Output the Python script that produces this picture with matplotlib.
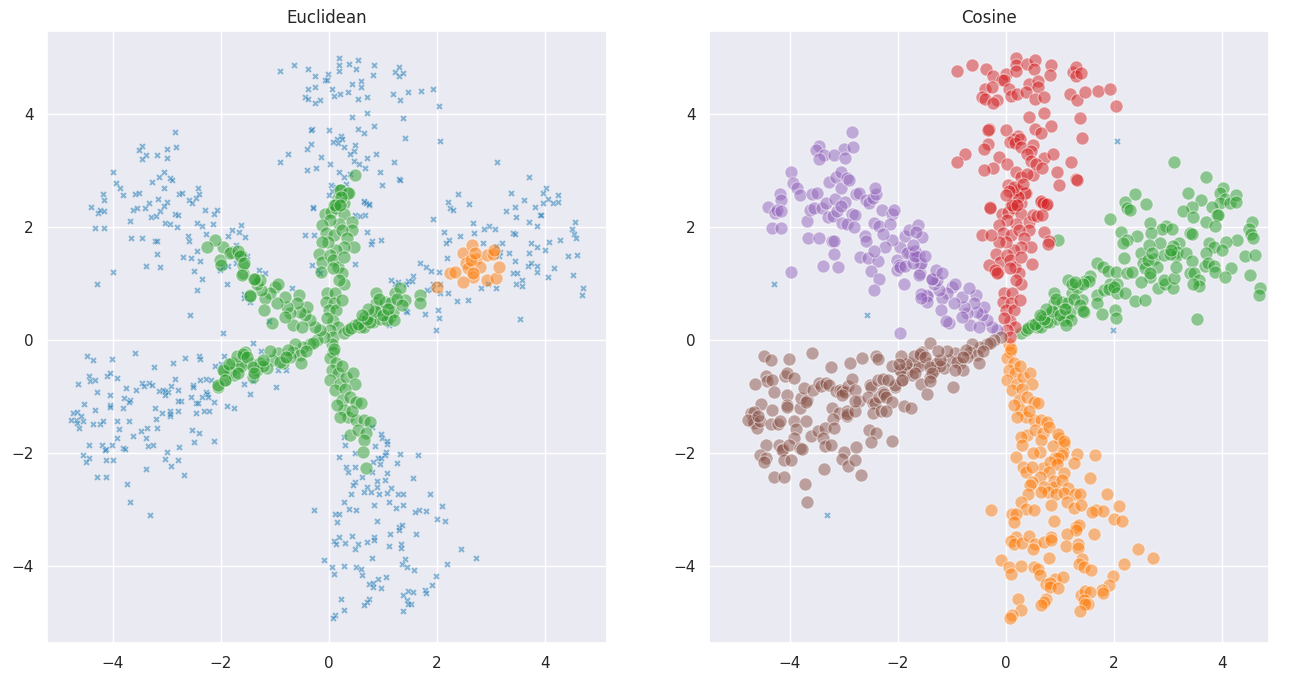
import matplotlib
matplotlib.use('Agg')
import matplotlib.pyplot as plt
import numpy as np
import seaborn as sns

sns.set_theme()

# points, grouped by arm
# *_core: dense part near the centre (main euclidean cluster)
# *_outer: euclidean noise, but assigned to the arm by cosine
red_core = [
    (0.49, 2.92), (0.37, 2.61), (0.22, 2.65), (0.17, 2.51), (0.27, 2.42), (0.09, 2.39),
    (-0.07, 2.24), (0.04, 2.27), (0.14, 2.33), (0.28, 2.24), (0.42, 2.09), (0.43, 1.95),
    (0.19, 2.06), (0.02, 2.12), (-0.13, 2.03), (-0.06, 1.89), (0.09, 1.86), (0.24, 1.95),
    (0.33, 1.80), (0.47, 1.65), (0.28, 1.65), (0.14, 1.59), (-0.01, 1.74), (-0.13, 1.74),
    (-0.19, 1.53), (-0.12, 1.39), (-0.15, 1.21), (0.02, 1.50), (0.08, 1.42), (0.17, 1.30),
    (0.27, 1.47), (0.24, 1.18), (0.28, 1.00), (0.19, 1.06), (0.08, 1.27), (-0.04, 0.83),
    (0.11, 0.83), (-0.05, 0.68), (0.09, 0.65), (0.00, 0.54), (0.14, 0.54), (0.25, 0.71),
    (0.07, 0.33), (-0.03, 0.39), (0.17, 0.24), (0.02, 0.18), (0.08, 0.06), (0.20, 2.66),
    (0.35, 2.61), (0.23, 2.54), (0.11, 2.39), (0.20, 2.39),
]
red_outer = [
    (-0.91, 4.76), (-0.64, 4.87), (-0.38, 4.79), (-0.25, 4.68), (-0.01, 4.71), (-0.07, 4.61),
    (-0.03, 4.61), (0.18, 5.00), (0.19, 4.87), (0.19, 4.77), (0.38, 4.88), (0.53, 4.96),
    (0.51, 4.80), (0.84, 4.86), (0.82, 4.69), (1.23, 4.75), (1.30, 4.84), (1.30, 4.68),
    (1.38, 4.72), (-0.39, 4.44), (-0.26, 4.48), (0.06, 4.44), (0.42, 4.54), (0.60, 4.59),
    (0.59, 4.47), (-0.44, 4.30), (-0.39, 4.27), (-0.16, 4.25), (-0.25, 4.20), (0.10, 4.32),
    (0.21, 4.35), (0.36, 4.39), (0.54, 4.27), (0.70, 4.31), (1.18, 4.35), (1.32, 4.25),
    (1.47, 4.39), (1.70, 4.41), (1.93, 4.45), (2.04, 4.15), (0.70, 4.02), (0.42, 3.94),
    (1.37, 3.93), (-0.31, 3.74), (-0.34, 3.72), (0.00, 3.72), (0.53, 3.73), (0.83, 3.79),
    (0.65, 3.66), (1.41, 3.57), (0.22, 3.62), (0.15, 3.55), (0.08, 3.51), (0.16, 3.49),
    (0.25, 3.55), (-0.76, 3.30), (-0.33, 3.47), (-0.40, 3.39), (-0.14, 3.24), (0.28, 3.42),
    (0.49, 3.45), (0.47, 3.34), (0.39, 3.30), (0.70, 3.23), (0.87, 3.30), (-0.91, 3.16),
    (0.02, 3.12), (0.46, 3.17), (0.56, 3.12), (-0.24, 3.04), (-0.41, 3.01), (0.67, 3.04),
    (1.21, 3.15), (0.94, 2.98), (0.19, 2.97), (0.28, 2.89), (0.39, 2.94), (1.30, 2.85),
    (0.98, 2.75), (0.04, 2.74), (0.14, 2.71), (0.06, 2.64), (0.00, 2.57), (0.31, 2.76),
    (0.65, 2.45), (0.74, 2.39), (-0.30, 2.35), (1.31, 2.84), (-0.29, 2.34), (-0.44, 1.86),
    (-0.27, 1.86), (-0.31, 1.33), (-0.20, 1.24), (-0.16, 1.19), (0.48, 1.35), (0.70, 1.92),
    (0.80, 1.76), (0.77, 1.70), (0.64, 2.46), (0.68, 2.42), (0.75, 2.40), (0.49, 2.22),
    (0.57, 2.19), (0.67, 2.21),
]
green_core = [
    (0.27, 0.12), (0.36, 0.18), (0.48, 0.27), (0.60, 0.32), (0.57, 0.24), (0.67, 0.41),
    (0.79, 0.47), (0.82, 0.32), (0.94, 0.38), (0.88, 0.65), (0.97, 0.53), (0.88, 0.83),
    (1.04, 0.68), (1.13, 0.41), (1.19, 0.50), (1.22, 0.83), (1.31, 0.92), (1.41, 0.71),
    (1.13, 0.65), (1.68, 0.80), (1.68, 0.65), (0.64, 0.24), (0.76, 0.32), (1.07, 0.36),
    (0.40, 0.22), (0.54, 0.29), (0.70, 0.37), (0.85, 0.52), (0.92, 0.72), (1.00, 0.45),
    (1.10, 0.55), (1.26, 0.72), (1.36, 0.62), (1.20, 0.35), (0.73, 0.55), (0.62, 0.45),
]
green_outer = [
    (3.11, 3.15), (3.71, 2.88), (4.01, 2.70), (3.97, 2.60), (4.05, 2.49), (3.97, 2.42),
    (4.14, 2.42), (4.25, 2.57), (4.25, 2.45), (3.37, 2.61), (3.61, 2.48), (3.44, 2.36),
    (3.27, 2.29), (3.47, 2.17), (3.81, 2.36), (3.91, 2.21), (3.93, 2.22), (3.71, 2.09),
    (3.86, 2.02), (4.56, 2.09), (4.50, 1.96), (4.54, 1.87), (4.57, 1.81), (2.39, 2.58),
    (2.21, 2.45), (2.24, 2.34), (2.30, 2.30), (2.60, 2.41), (1.92, 2.15), (2.66, 2.07),
    (2.96, 2.02), (2.88, 1.96), (3.07, 1.97), (2.68, 1.90), (2.13, 1.91), (2.43, 1.84),
    (2.23, 1.78), (2.17, 1.71), (3.41, 1.89), (3.44, 1.88), (4.27, 1.78), (4.08, 1.73),
    (3.75, 1.72), (3.85, 1.64), (4.00, 1.59), (2.85, 1.71), (3.20, 1.71), (3.09, 1.66),
    (3.17, 1.56), (3.15, 1.49), (3.33, 1.55), (3.70, 1.55), (4.43, 1.49), (4.60, 1.50),
    (2.18, 1.46), (3.44, 1.40), (3.69, 1.31), (3.74, 1.37), (3.85, 1.31), (3.86, 1.21),
    (4.17, 1.28), (3.40, 1.19), (3.48, 1.18), (4.06, 1.12), (4.52, 1.15), (3.57, 1.06),
    (3.58, 0.96), (3.46, 1.00), (2.82, 0.93), (2.94, 0.99), (3.09, 0.93), (4.71, 0.93),
    (4.69, 0.79), (3.53, 0.37), (1.69, 1.36), (1.79, 1.30), (1.89, 1.23), (2.04, 1.20),
    (1.56, 1.13), (1.47, 1.04), (1.54, 1.04), (1.42, 1.00), (1.93, 1.00), (2.05, 1.00),
    (1.81, 0.88), (1.90, 0.90), (2.05, 0.84), (2.21, 0.83), (2.38, 0.70), (2.57, 0.71),
    (1.78, 0.47), (2.02, 0.54), (2.04, 0.40), (1.44, 0.49), (0.97, 1.77), (1.15, 1.06),
    (1.22, 1.00), (1.28, 1.03), (1.11, 0.27), (1.43, 0.52),
]
# small second euclidean cluster (sits in the green arm)
blob = [
    (2.24, 1.18), (2.33, 1.21), (2.49, 1.54), (2.64, 1.68), (2.54, 1.37), (2.73, 1.44),
    (2.80, 1.30), (2.58, 1.27), (2.67, 1.12), (2.49, 1.03), (2.92, 1.06), (3.10, 1.10),
    (3.15, 1.29), (2.93, 1.50), (3.03, 1.52), (3.06, 1.59), (2.63, 1.41), (2.70, 1.54),
    (2.00, 0.94), (2.66, 1.18),
]
orange_core = [
    (0.05, -0.06), (0.08, -0.21), (0.02, -0.32), (0.14, -0.41), (0.05, -0.53), (0.17, -0.59),
    (0.02, -0.71), (0.20, -0.77), (0.11, -0.88), (0.32, -0.65), (0.45, -0.59), (0.48, -0.77),
    (0.30, -0.86), (0.24, -1.06), (0.39, -1.00), (0.51, -1.09), (0.60, -1.12), (0.27, -1.24),
    (0.36, -1.36), (0.51, -1.42), (0.64, -1.42), (0.76, -1.45), (0.39, -1.68), (0.54, -1.59),
    (0.69, -1.65), (0.64, -1.77), (0.63, -1.98), (0.69, -2.27), (0.20, -1.36), (0.10, -0.15),
    (0.25, -0.45), (0.15, -1.15), (0.42, -1.25),
]
orange_outer = [
    (0.80, -1.54), (0.98, -1.73), (1.08, -1.84), (0.86, -1.87), (0.27, -1.71), (0.30, -1.86),
    (0.19, -2.07), (0.31, -2.24), (0.36, -2.34), (0.48, -2.24), (0.49, -2.00), (1.06, -1.98),
    (1.03, -2.04), (0.90, -2.08), (0.96, -2.08), (0.82, -2.16), (0.95, -2.20), (1.31, -2.02),
    (1.26, -2.17), (1.64, -2.04), (1.08, -2.36), (0.79, -2.34), (0.62, -2.43), (0.48, -2.51),
    (0.44, -2.57), (0.89, -2.50), (0.89, -2.60), (1.03, -2.48), (1.15, -2.62), (0.71, -2.60),
    (0.77, -2.69), (0.65, -2.69), (0.93, -2.73), (1.07, -2.70), (1.27, -2.73), (1.37, -2.73),
    (1.56, -2.44), (1.87, -2.73), (0.40, -2.73), (0.28, -2.87), (1.12, -2.87), (0.37, -2.98),
    (0.51, -3.00), (0.83, -2.91), (1.25, -2.97), (1.38, -2.92), (1.67, -3.00), (1.80, -3.03),
    (2.10, -2.93), (2.00, -3.17), (2.14, -3.20), (1.60, -3.04), (-0.27, -3.01), (0.11, -3.07),
    (0.18, -3.07), (0.15, -3.21), (0.89, -3.20), (1.29, -3.30), (1.35, -3.28), (1.29, -3.36),
    (1.13, -3.43), (1.62, -3.43), (0.18, -3.48), (0.10, -3.56), (0.14, -3.60), (0.29, -3.59),
    (0.43, -3.47), (0.54, -3.61), (0.49, -3.70), (0.71, -3.58), (0.83, -3.48), (0.84, -3.53),
    (1.11, -3.64), (1.33, -3.61), (1.34, -3.67), (2.44, -3.70), (2.72, -3.85), (-0.10, -3.89),
    (0.80, -3.86), (1.41, -3.87), (0.06, -4.02), (0.09, -4.13), (0.28, -4.00), (0.51, -4.01),
    (0.59, -4.05), (0.62, -4.16), (1.35, -3.97), (1.44, -4.01), (1.57, -4.06), (2.19, -3.96),
    (0.90, -4.22), (1.05, -4.20), (0.74, -4.32), (0.82, -4.30), (0.81, -4.36), (0.96, -4.39),
    (1.98, -4.17), (1.90, -4.33), (1.78, -4.42), (1.80, -4.48), (1.38, -4.51), (1.47, -4.44),
    (1.56, -4.45), (1.45, -4.60), (1.52, -4.67), (1.47, -4.67), (1.37, -4.80), (0.23, -4.58),
    (0.74, -4.58), (0.70, -4.63), (0.65, -4.68), (0.28, -4.77), (0.11, -4.86), (0.07, -4.91),
    (0.96, -1.66), (1.08, -1.79),
]
brown_core = [
    (-0.10, 0.06), (-0.23, 0.00), (-0.35, -0.06), (-0.48, -0.12), (-0.63, -0.06), (-0.66, -0.21),
    (-0.54, -0.27), (-0.51, -0.41), (-0.72, -0.30), (-0.85, -0.41), (-0.94, -0.23), (-1.06, -0.35),
    (-1.15, -0.50), (-1.34, -0.53), (-1.46, -0.41), (-1.40, -0.65), (-1.59, -0.30), (-1.68, -0.47),
    (-1.80, -0.41), (-1.83, -0.56), (-1.93, -0.71), (-2.05, -0.83), (-1.55, -0.21), (-1.28, -0.41),
    (-0.91, -0.38), (-0.30, -0.05), (-0.42, -0.20), (-0.75, -0.18), (-0.80, -0.30), (-1.10, -0.20),
    (-1.22, -0.45), (-1.62, -0.45), (-1.75, -0.62), (-1.95, -0.55), (-1.70, -0.28), (-2.05, -0.80),
    (-1.97, -0.53), (-1.85, -0.43), (-1.60, -0.24), (-1.51, -0.30), (-1.41, -0.47), (-1.38, -0.59),
    (-1.23, -0.35), (-1.68, -0.59), (-1.93, -0.71),
]
brown_outer = [
    (-1.41, -0.05), (-1.26, -0.19), (-4.48, -0.28), (-4.36, -0.36), (-4.01, -0.34), (-3.59, -0.22),
    (-3.24, -0.47), (-2.89, -0.40), (-2.66, -0.32), (-2.41, -0.28), (-2.38, -0.34), (-1.95, -0.28),
    (-2.11, -0.46), (-1.99, -0.43), (-4.44, -0.63), (-4.43, -0.72), (-4.34, -0.70), (-4.65, -0.78),
    (-4.10, -0.64), (-4.05, -0.59), (-3.93, -0.67), (-4.30, -0.92), (-4.05, -0.97), (-4.54, -1.13),
    (-4.33, -1.23), (-4.05, -1.14), (-4.05, -1.19), (-3.81, -1.20), (-3.80, -1.02), (-3.69, -1.06),
    (-3.70, -1.10), (-3.75, -0.84), (-3.57, -0.88), (-3.47, -0.75), (-3.43, -0.81), (-3.33, -0.75),
    (-3.27, -0.79), (-3.14, -0.90), (-3.08, -0.88), (-3.03, -0.90), (-2.98, -0.92), (-2.92, -0.81),
    (-2.85, -0.68), (-3.04, -0.97), (-2.79, -0.88), (-2.73, -1.08), (-2.52, -0.80), (-2.51, -0.83),
    (-2.38, -0.71), (-2.27, -0.68), (-2.18, -0.70), (-2.55, -1.01), (-2.47, -1.12), (-2.43, -1.12),
    (-2.35, -1.01), (-2.28, -0.91), (-2.26, -0.96), (-2.23, -1.00), (-2.12, -1.09), (-1.89, -1.17),
    (-1.76, -1.20), (-1.57, -0.77), (-1.46, -0.96), (-1.40, -0.72), (-3.22, -1.20), (-3.10, -1.29),
    (-2.94, -1.25), (-2.95, -1.35), (-2.94, -1.31), (-2.80, -1.25), (-2.80, -1.07), (-2.46, -1.29),
    (-2.31, -1.26), (-2.22, -1.26), (-3.20, -1.40), (-4.73, -1.29), (-4.67, -1.27), (-4.68, -1.41),
    (-4.67, -1.47), (-4.62, -1.56), (-4.78, -1.41), (-4.55, -1.44), (-4.59, -1.34), (-4.36, -1.48),
    (-4.23, -1.49), (-4.18, -1.44), (-3.92, -1.44), (-3.71, -1.44), (-3.89, -1.57), (-3.62, -1.69),
    (-3.48, -1.61), (-3.36, -1.55), (-3.19, -1.55), (-3.39, -1.73), (-3.93, -1.74), (-4.44, -1.86),
    (-4.20, -1.86), (-4.13, -1.92), (-4.14, -1.94), (-4.01, -1.86), (-3.82, -1.91), (-3.77, -1.92),
    (-3.35, -1.88), (-3.25, -1.85), (-3.00, -1.98), (-2.77, -1.89), (-2.54, -1.59), (-2.41, -1.65),
    (-2.50, -1.80), (-2.12, -1.79), (-4.55, -2.03), (-4.45, -2.08), (-4.49, -2.16), (-4.12, -2.12),
    (-3.99, -2.13), (-3.03, -2.10), (-2.93, -2.23), (-2.80, -2.12), (-2.68, -2.38), (-3.38, -2.28),
    (-4.30, -2.42), (-4.12, -2.42), (-3.73, -2.55), (-3.68, -2.87), (-0.98, -0.83), (-0.80, -0.53),
    (-0.94, -0.53),
]
purple_core = [
    (-0.17, 0.18), (-0.26, 0.24), (-0.35, 0.35), (-0.44, 0.44), (-0.41, 0.59), (-0.54, 0.50),
    (-0.56, 0.80), (-0.60, 0.65), (-0.72, 0.48), (-0.78, 0.59), (-0.81, 0.77), (-0.97, 0.65),
    (-1.00, 0.94), (-0.94, 1.00), (-1.09, 0.83), (-1.19, 0.74), (-1.20, 0.53), (-1.06, 0.30),
    (-1.25, 0.88), (-1.34, 1.00), (-1.28, 1.06), (-1.46, 0.80), (-1.37, 1.09), (-1.59, 1.18),
    (-1.60, 1.33), (-1.62, 1.50), (-1.80, 1.56), (-1.96, 1.65), (-2.11, 1.77), (-2.25, 1.65),
    (-2.02, 1.42), (-1.99, 1.33), (-0.66, 0.26), (-0.81, 0.41), (-0.50, 0.24), (-1.84, 1.54),
    (-1.68, 1.57), (-1.64, 1.48), (-1.58, 1.36), (-1.61, 1.16), (-1.38, 1.08), (-1.46, 0.78),
]
purple_outer = [
    (-2.85, 3.68), (-3.47, 3.43), (-3.52, 3.37), (-3.00, 3.39), (-2.84, 3.42), (-3.38, 3.27),
    (-3.18, 3.28), (-3.47, 3.20), (-2.99, 3.22), (-3.99, 2.98), (-3.94, 2.78), (-3.87, 2.70),
    (-3.82, 2.57), (-4.19, 2.58), (-4.16, 2.48), (-4.41, 2.35), (-4.28, 2.25), (-4.24, 2.31),
    (-4.17, 2.29), (-4.33, 1.98), (-4.16, 1.98), (-3.99, 1.20), (-3.66, 1.80), (-3.47, 1.80),
    (-3.68, 2.11), (-3.63, 2.30), (-3.56, 2.33), (-3.59, 2.59), (-3.51, 2.60), (-3.41, 2.33),
    (-3.34, 2.43), (-3.30, 2.18), (-3.21, 2.19), (-3.27, 2.80), (-3.13, 2.29), (-3.16, 2.49),
    (-3.14, 2.88), (-3.06, 2.98), (-3.06, 2.70), (-2.94, 2.86), (-2.91, 2.84), (-2.99, 2.44),
    (-3.05, 2.38), (-2.85, 2.24), (-2.79, 2.22), (-3.04, 2.08), (-2.94, 2.06), (-2.81, 2.00),
    (-2.78, 2.58), (-2.72, 2.61), (-2.60, 2.48), (-2.53, 2.42), (-2.47, 2.51), (-2.41, 2.58),
    (-2.42, 2.70), (-2.30, 2.31), (-2.12, 2.24), (-2.07, 2.31), (-2.44, 2.07), (-2.35, 2.02),
    (-2.14, 2.05), (-3.22, 1.76), (-3.18, 1.76), (-3.18, 1.53), (-3.39, 1.32), (-3.12, 1.30),
    (-2.70, 1.47), (-2.55, 1.46), (-2.38, 1.40), (-2.44, 1.57), (-2.61, 1.84), (-2.60, 1.75),
    (-2.28, 1.87), (-2.50, 1.23), (-2.35, 1.08), (-2.44, 0.88), (-1.89, 0.99), (-2.02, 1.24),
    (-1.97, 1.30), (-1.87, 1.31), (-1.73, 1.36), (-1.69, 1.49), (-1.87, 1.85), (-1.80, 1.95),
    (-1.63, 2.04), (-1.56, 1.82), (-1.66, 1.91), (-1.72, 1.69), (-1.51, 1.49), (-1.57, 0.81),
    (-1.46, 0.67), (-1.57, 0.75), (-1.97, 0.12), (-0.69, 0.92), (-1.11, 0.34), (-1.30, 1.24),
    (-1.19, 1.19),
]
# noise under both metrics
noise_both = [(2.06, 3.52), (1.98, 0.18), (-4.29, 1.00), (-2.57, 0.44), (-3.31, -3.10)]

blue, orange, green, red, purple, brown = '#1f77b4', '#ff7f0e', '#2ca02c', '#d62728', '#9467bd', '#8c564b'


def xy(pts):
    a = np.array(pts)
    return a[:, 0], a[:, 1]


def dots(ax, pts, color):
    x, y = xy(pts)
    ax.scatter(x, y, s=88, c=color, alpha=0.5, edgecolors='white', linewidths=0.75)


def crosses(ax, pts):
    x, y = xy(pts)
    ax.scatter(x, y, s=25, c=blue, marker='X', alpha=0.5, edgecolors='white', linewidths=0.4)


fig, (ax1, ax2) = plt.subplots(1, 2, figsize=(12.95, 6.84), dpi=100)
fig.subplots_adjust(left=0.0363, right=0.98, top=0.9547, bottom=0.0599, wspace=0.182)

# Euclidean
crosses(ax1, red_outer + green_outer + orange_outer + brown_outer + purple_outer + noise_both)
dots(ax1, red_core + green_core + orange_core + brown_core + purple_core, green)
dots(ax1, blob, orange)
ax1.set_title('Euclidean')
ax1.set_xlim(-5.22, 5.15)
ax1.set_ylim(-5.36, 5.47)

# Cosine
dots(ax2, orange_core + orange_outer, orange)
dots(ax2, green_core + green_outer + blob, green)
dots(ax2, red_core + red_outer, red)
dots(ax2, purple_core + purple_outer, purple)
dots(ax2, brown_core + brown_outer, brown)
crosses(ax2, noise_both)
ax2.set_title('Cosine')
ax2.set_xlim(-5.5, 4.87)
ax2.set_ylim(-5.36, 5.47)

for ax in (ax1, ax2):
    ax.set_xticks([-4, -2, 0, 2, 4])
    ax.set_yticks([-4, -2, 0, 2, 4])

plt.savefig('out.png')
